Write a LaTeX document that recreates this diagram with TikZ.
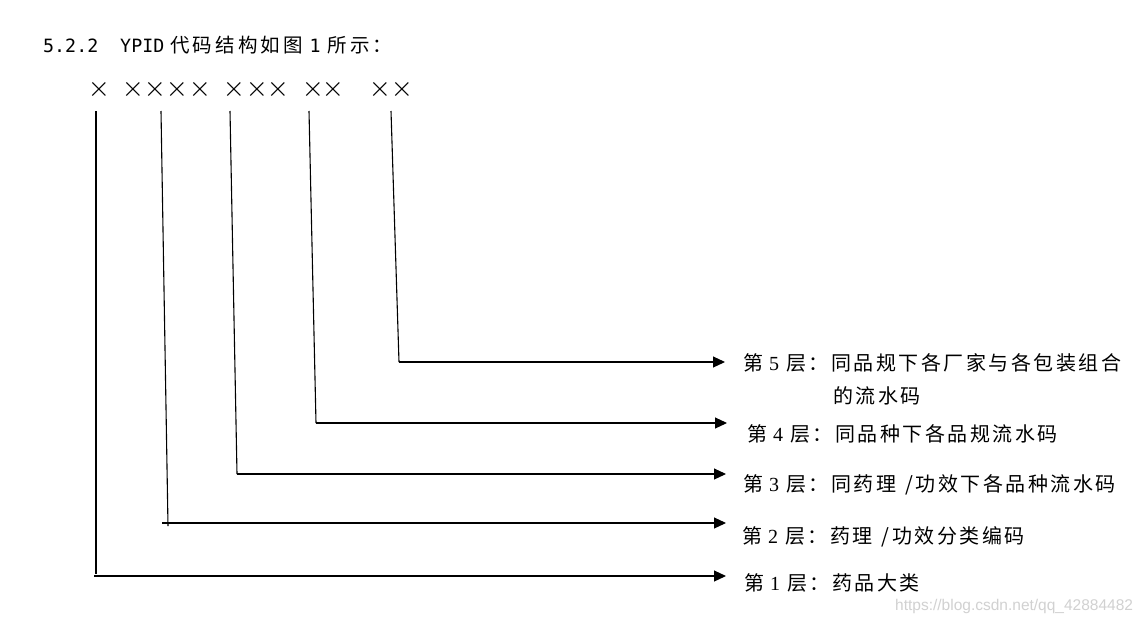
\documentclass[tikz,border=0pt]{standalone}
\usepackage{fontspec}
\setmainfont{Liberation Serif}
\newfontfamily\cjk{Noto Sans CJK SC}[LetterSpace=12.5]
\newfontfamily\cjkt{Noto Sans CJK SC}[LetterSpace=16]
\newfontfamily\monof{DejaVu Sans Mono}
\newfontfamily\wmf{Liberation Sans}
\newfontfamily\xf{Lato Light}
\usetikzlibrary{arrows.meta}
\newcommand{\layerlab}[2]{{\cjk 第}\hspace{0.3em}#1\hspace{0.35em}{\cjk 层：#2}}
\tikzset{
  conn/.style={line width=1.1pt, black},
  arr/.style={conn, -{Triangle[length=12pt,width=11pt]}},
  lab/.style={anchor=base west, inner sep=0pt, font=\fontsize{20}{24}\selectfont},
  xmark/.style={inner sep=0pt, font=\xf\fontsize{33}{35}\selectfont},
  title/.style={anchor=base west, inner sep=0pt, font=\fontsize{19.5}{23}\selectfont},
  wm/.style={anchor=base west, inner sep=0pt, text=black!18, font=\wmf\fontsize{15.5}{17}\selectfont}
}
\begin{document}
\begin{tikzpicture}[x=1pt,y=-1pt]
\useasboundingbox (0,0) rectangle (1147,624);
\fill[white] (0,0) rectangle (1147,624);
% title
\node[title] (title) at (43,52) {{\monof\fontsize{18.3}{22}\selectfont 5.2.2\hspace{1.2em}YPID}\hspace{0.3em}{\cjkt 代码结构如图}\hspace{0.35em}{\monof\fontsize{18.3}{22}\selectfont 1}\hspace{0.35em}{\cjkt 所示：}};
% code marks
\foreach \n/\x in {1/99,2/133,3/155,4/177,5/200,6/234,7/257,8/278,9/313,10/333,11/380,12/402}
  \node[xmark] (x\n) at (\x,91) {×};
% tops of the lines
\coordinate (t1) at (96,111);
\coordinate (t2) at (161,111);
\coordinate (t3) at (230,111);
\coordinate (t4) at (309,111);
\coordinate (t5) at (391,111);
% corners
\coordinate (c1) at (96,574);
\coordinate (c2) at (168,526);
\coordinate (c3) at (237,474);
\coordinate (c4) at (316,423);
\coordinate (c5) at (399,362);
% starts of horizontal lines
\coordinate (h1) at (94,576);
\coordinate (h2) at (162,523);
% arrow tips
\coordinate (a1) at (726,576);
\coordinate (a2) at (726,523);
\coordinate (a3) at (726,474);
\coordinate (a4) at (727,423);
\coordinate (a5) at (725,362);
% labels
\node[lab] (l5) at (743,370) {\layerlab{5}{同品规下各厂家与各包装组合}};
\node[lab] (l5b) at (833,403) {\cjk 的流水码};
\node[lab] (l4) at (747,441) {\layerlab{4}{同品种下各品规流水码}};
\node[lab] (l3) at (743,491) {\layerlab{3}{同药理\hspace{0.45em}/功效下各品种流水码}};
\node[lab] (l2) at (742,543) {\layerlab{2}{药理\hspace{0.45em}/功效分类编码}};
\node[lab] (l1) at (744,590) {\layerlab{1}{药品大类}};
% connectors
\draw[conn] (t1) -- (c1);
\draw[arr] (h1) -- (a1);
\draw[conn] (t2) -- (c2);
\draw[arr] (h2) -- (a2);
\draw[conn] (t3) -- (c3);
\draw[arr] (c3) -- (a3);
\draw[conn] (t4) -- (c4);
\draw[arr] (c4) -- (a4);
\draw[conn] (t5) -- (c5);
\draw[arr] (c5) -- (a5);
% watermark
\node[wm] (wm) at (895,610) {https://blog.csdn.net/qq\_42884482};
\end{tikzpicture}
\end{document}
